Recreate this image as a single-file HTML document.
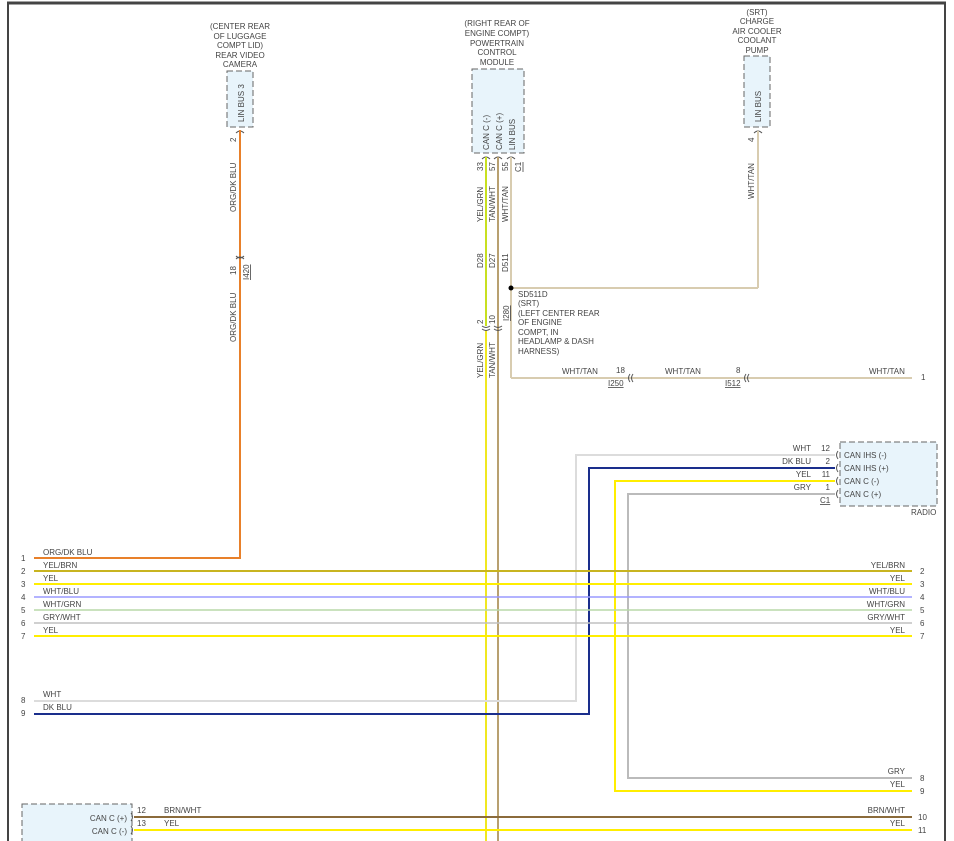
<!DOCTYPE html>
<html><head><meta charset="utf-8"><style>
html,body{margin:0;padding:0;background:#fff;}
svg{display:block;font-family:"Liberation Sans",sans-serif;}
text{font-size:8px;fill:#444;}
</style></head><body>
<svg width="954" height="841" viewBox="0 0 954 841" xmlns="http://www.w3.org/2000/svg">
<rect x="0" y="0" width="954" height="841" fill="#fff"/>
<!-- frame -->
<line x1="7" y1="3" x2="946" y2="3" stroke="#444" stroke-width="3"/>
<line x1="8" y1="3" x2="8" y2="841" stroke="#444" stroke-width="2"/>
<line x1="945" y1="3" x2="945" y2="841" stroke="#444" stroke-width="2"/>

<!-- Camera -->
<g text-anchor="middle">
<text x="240" y="29">(CENTER REAR</text>
<text x="240" y="39">OF LUGGAGE</text>
<text x="240" y="48">COMPT LID)</text>
<text x="240" y="58">REAR VIDEO</text>
<text x="240" y="67">CAMERA</text>
</g>
<rect x="227" y="71" width="26" height="56" fill="#e8f4fb" stroke="#666" stroke-dasharray="6,3"/>
<text transform="translate(244,122) rotate(-90)">LIN BUS 3</text>
<path d="M236,133 q4,-4 8,0" fill="none" stroke="#555"/>
<line x1="240" y1="130" x2="240" y2="558" stroke="#e8802a" stroke-width="2"/>
<text transform="translate(236,142) rotate(-90)">2</text>
<text transform="translate(236,212) rotate(-90)">ORG/DK BLU</text>
<path d="M236,256 q4,4 8,0 M236,259 q4,-4 8,0" fill="none" stroke="#555"/>
<text transform="translate(236,275) rotate(-90)">18</text>
<text transform="translate(249,280) rotate(-90)" text-decoration="underline">I420</text>
<text transform="translate(236,342) rotate(-90)">ORG/DK BLU</text>

<!-- PCM -->
<g text-anchor="middle">
<text x="497" y="26">(RIGHT REAR OF</text>
<text x="497" y="36">ENGINE COMPT)</text>
<text x="497" y="46">POWERTRAIN</text>
<text x="497" y="55">CONTROL</text>
<text x="497" y="65">MODULE</text>
</g>
<rect x="472" y="69" width="52" height="84" fill="#e8f4fb" stroke="#666" stroke-dasharray="6,3"/>
<text transform="translate(489,150) rotate(-90)">CAN C (-)</text>
<text transform="translate(502,150) rotate(-90)">CAN C (+)</text>
<text transform="translate(515,150) rotate(-90)">LIN BUS</text>
<path d="M482,159 q4,-4 8,0 M494,159 q4,-4 8,0 M507,159 q4,-4 8,0" fill="none" stroke="#555"/>
<line x1="486" y1="157" x2="486" y2="326" stroke="#c8e020" stroke-width="2"/>
<line x1="486" y1="330" x2="486" y2="841" stroke="#f0e820" stroke-width="2"/>
<line x1="498" y1="157" x2="498" y2="841" stroke="#b8a070" stroke-width="2"/>
<line x1="511" y1="157" x2="511" y2="378" stroke="#d8ccb0" stroke-width="2"/>
<line x1="511" y1="378" x2="912" y2="378" stroke="#d8ccb0" stroke-width="2"/>
<line x1="511" y1="288" x2="758" y2="288" stroke="#d8ccb0" stroke-width="2"/>
<circle cx="511" cy="288" r="2.5" fill="#000"/>
<text transform="translate(483,171) rotate(-90)">33</text>
<text transform="translate(495,171) rotate(-90)">57</text>
<text transform="translate(508,171) rotate(-90)">55</text>
<text transform="translate(521,172) rotate(-90)">C1</text>
<line x1="523" y1="162" x2="523" y2="172" stroke="#444" stroke-width="0.8"/>
<text transform="translate(483,222) rotate(-90)">YEL/GRN</text>
<text transform="translate(495,222) rotate(-90)">TAN/WHT</text>
<text transform="translate(508,222) rotate(-90)">WHT/TAN</text>
<text transform="translate(483,268) rotate(-90)">D28</text>
<text transform="translate(495,268) rotate(-90)">D27</text>
<text transform="translate(508,272) rotate(-90)">D511</text>
<text transform="translate(483,324) rotate(-90)">2</text>
<text transform="translate(495,324) rotate(-90)">10</text>
<text transform="translate(509,321) rotate(-90)" text-decoration="underline">I280</text>
<path d="M482,326 q4,3 8,0 M482,329 q4,3 8,0 M494,326 q4,3 8,0 M494,329 q4,3 8,0" fill="none" stroke="#555"/>
<text transform="translate(483,378) rotate(-90)">YEL/GRN</text>
<text transform="translate(495,378) rotate(-90)">TAN/WHT</text>
<g>
<text x="518" y="297">SD511D</text>
<text x="518" y="306">(SRT)</text>
<text x="518" y="316">(LEFT CENTER REAR</text>
<text x="518" y="325">OF ENGINE</text>
<text x="518" y="335">COMPT, IN</text>
<text x="518" y="344">HEADLAMP &amp; DASH</text>
<text x="518" y="354">HARNESS)</text>
</g>
<text x="562" y="374">WHT/TAN</text>
<text x="616" y="373">18</text>
<text x="608" y="386" text-decoration="underline">I250</text>
<path d="M630,374 q-3,4 0,8 M633,374 q-3,4 0,8" fill="none" stroke="#555"/>
<text x="665" y="374">WHT/TAN</text>
<text x="736" y="373">8</text>
<text x="725" y="386" text-decoration="underline">I512</text>
<path d="M746,374 q-3,4 0,8 M749,374 q-3,4 0,8" fill="none" stroke="#555"/>
<text x="869" y="374">WHT/TAN</text>
<text x="921" y="380">1</text>

<!-- Pump -->
<g text-anchor="middle">
<text x="757" y="15">(SRT)</text>
<text x="757" y="24">CHARGE</text>
<text x="757" y="34">AIR COOLER</text>
<text x="757" y="43">COOLANT</text>
<text x="757" y="53">PUMP</text>
</g>
<rect x="744" y="56" width="26" height="71" fill="#e8f4fb" stroke="#666" stroke-dasharray="6,3"/>
<text transform="translate(761,122) rotate(-90)">LIN BUS</text>
<path d="M754,133 q4,-4 8,0" fill="none" stroke="#555"/>
<line x1="758" y1="131" x2="758" y2="288" stroke="#d8ccb0" stroke-width="2"/>
<text transform="translate(754,142) rotate(-90)">4</text>
<text transform="translate(754,199) rotate(-90)">WHT/TAN</text>

<!-- Radio -->
<rect x="840" y="442" width="97" height="64" fill="#e8f4fb" stroke="#666" stroke-dasharray="6,3"/>
<text x="844" y="458">CAN IHS (-)</text>
<text x="844" y="471">CAN IHS (+)</text>
<text x="844" y="484">CAN C (-)</text>
<text x="844" y="497">CAN C (+)</text>
<text x="911" y="515">RADIO</text>
<path d="M838,451 q-3,4 0,8 M838,464 q-3,4 0,8 M838,477 q-3,4 0,8 M838,490 q-3,4 0,8" fill="none" stroke="#555"/>
<g text-anchor="end">
<text x="811" y="451">WHT</text><text x="830" y="451">12</text>
<text x="811" y="464">DK BLU</text><text x="830" y="464">2</text>
<text x="811" y="477">YEL</text><text x="830" y="477">11</text>
<text x="811" y="490">GRY</text><text x="830" y="490">1</text>
</g>
<text x="820" y="503" text-decoration="underline">C1</text>
<polyline points="835,455 576,455 576,701 34,701" fill="none" stroke="#dcdcdc" stroke-width="2"/>
<polyline points="835,468 589,468 589,714 34,714" fill="none" stroke="#1a2e8c" stroke-width="2"/>
<polyline points="835,481 615,481 615,791 912,791" fill="none" stroke="#ffee00" stroke-width="2"/>
<polyline points="835,494 628,494 628,778 912,778" fill="none" stroke="#bbbbbb" stroke-width="2"/>

<!-- horizontal bus -->
<polyline points="240,557 240,558 34,558" fill="none" stroke="#e8802a" stroke-width="2"/>
<line x1="34" y1="571" x2="912" y2="571" stroke="#c8b420" stroke-width="2"/>
<line x1="34" y1="584" x2="912" y2="584" stroke="#ffee00" stroke-width="2"/>
<line x1="34" y1="597" x2="912" y2="597" stroke="#9a9aff" stroke-width="1.5"/>
<line x1="34" y1="610" x2="912" y2="610" stroke="#b8d8a8" stroke-width="1.5"/>
<line x1="34" y1="623" x2="912" y2="623" stroke="#c0c0c0" stroke-width="1.5"/>
<line x1="34" y1="636" x2="912" y2="636" stroke="#ffee00" stroke-width="2"/>
<line x1="134" y1="817" x2="912" y2="817" stroke="#8b6b3b" stroke-width="2"/>
<line x1="134" y1="830" x2="912" y2="830" stroke="#ffee00" stroke-width="2"/>
<g>
<text x="43" y="555">ORG/DK BLU</text><text x="21" y="561">1</text>
<text x="43" y="568">YEL/BRN</text><text x="21" y="574">2</text>
<text x="43" y="581">YEL</text><text x="21" y="587">3</text>
<text x="43" y="594">WHT/BLU</text><text x="21" y="600">4</text>
<text x="43" y="607">WHT/GRN</text><text x="21" y="613">5</text>
<text x="43" y="620">GRY/WHT</text><text x="21" y="626">6</text>
<text x="43" y="633">YEL</text><text x="21" y="639">7</text>
<text x="43" y="697">WHT</text><text x="21" y="703">8</text>
<text x="43" y="710">DK BLU</text><text x="21" y="716">9</text>
</g>
<g text-anchor="end">
<text x="905" y="568">YEL/BRN</text>
<text x="905" y="581">YEL</text>
<text x="905" y="594">WHT/BLU</text>
<text x="905" y="607">WHT/GRN</text>
<text x="905" y="620">GRY/WHT</text>
<text x="905" y="633">YEL</text>
<text x="905" y="774">GRY</text>
<text x="905" y="787">YEL</text>
<text x="905" y="813">BRN/WHT</text>
<text x="905" y="826">YEL</text>
</g>
<g>
<text x="920" y="574">2</text><text x="920" y="587">3</text><text x="920" y="600">4</text>
<text x="920" y="613">5</text><text x="920" y="626">6</text><text x="920" y="639">7</text>
<text x="920" y="781">8</text><text x="920" y="794">9</text>
<text x="918" y="820">10</text><text x="918" y="833">11</text>
</g>

<!-- bottom-left module -->
<rect x="22" y="804" width="110" height="45" fill="#e8f4fb" stroke="#666" stroke-dasharray="6,3"/>
<text x="127" y="821" text-anchor="end">CAN C (+)</text>
<text x="127" y="834" text-anchor="end">CAN C (-)</text>
<path d="M131,813 q3,4 0,8 M131,826 q3,4 0,8" fill="none" stroke="#555"/>
<text x="137" y="813">12</text><text x="137" y="826">13</text>
<text x="164" y="813">BRN/WHT</text><text x="164" y="826">YEL</text>
</svg>
</body></html>
